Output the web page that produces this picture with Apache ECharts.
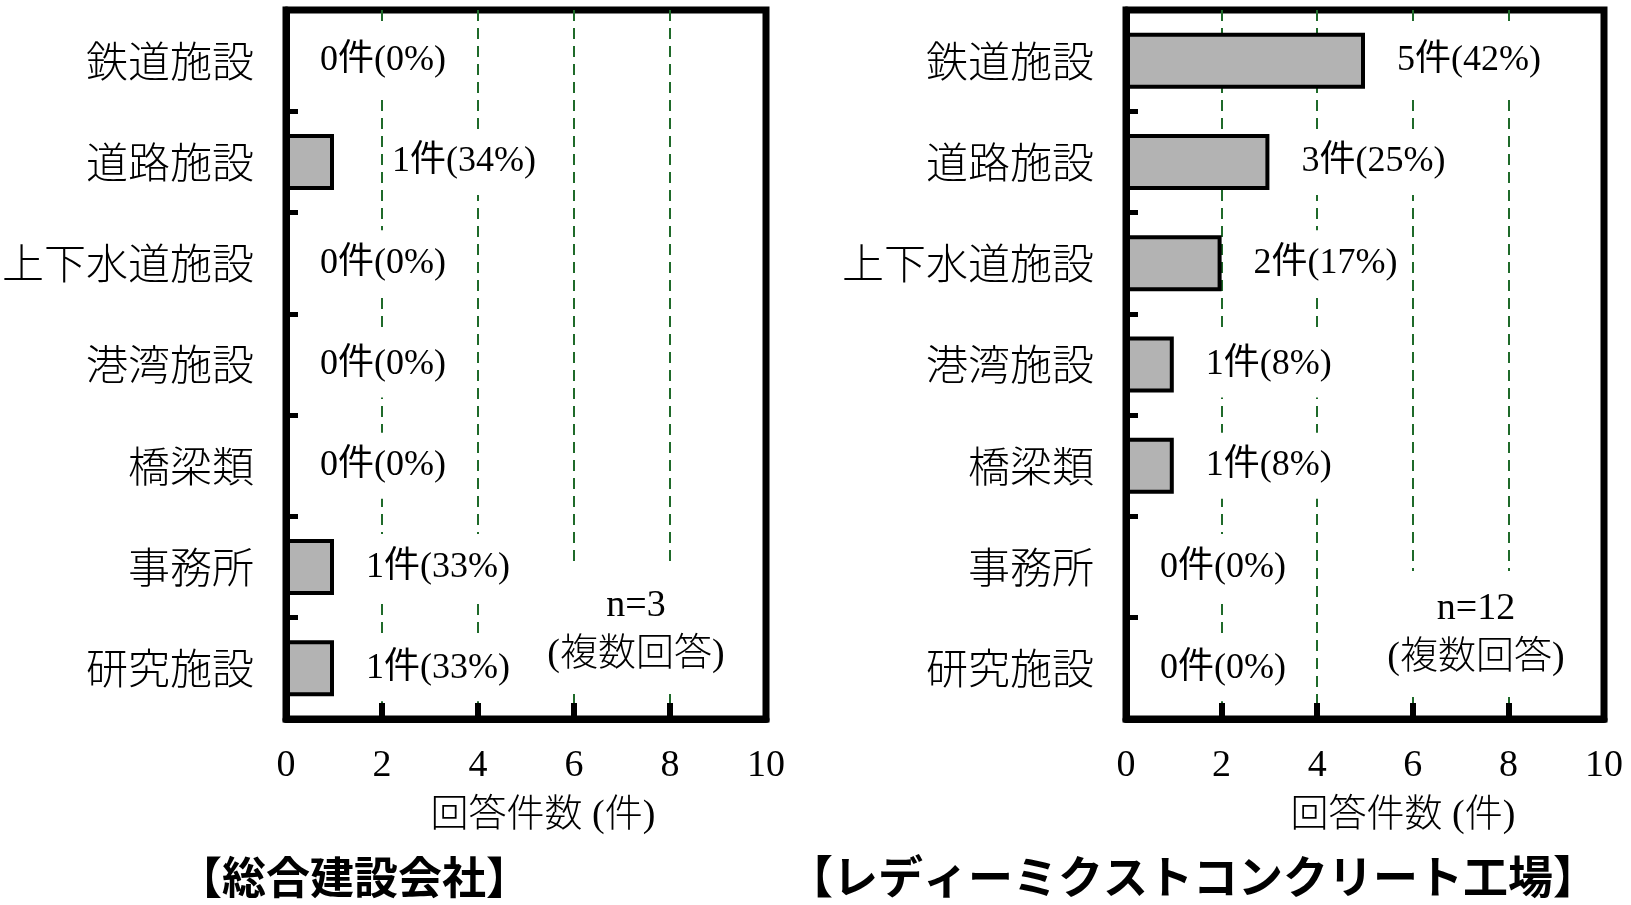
<!DOCTYPE html>
<html>
<head>
<meta charset="utf-8">
<script src="https://cdn.jsdelivr.net/npm/echarts@6/dist/echarts.min.js"></script>
<style>
html,body{margin:0;padding:0;background:#fff}
#main{width:1631px;height:905px}
</style>
</head>
<body>
<div id="main"></div>
<script>
/* データ */
var categories = ['鉄道施設', '道路施設', '上下水道施設', '港湾施設', '橋梁類', '事務所', '研究施設'];
var generalCounts = [0, 1, 0, 0, 0, 1, 1];      // 総合建設会社
var generalPct = [0, 34, 0, 0, 0, 33, 33];
var readyMixCounts = [5, 3, 2, 1, 1, 0, 0];     // レディーミクストコンクリート工場
var readyMixPct = [42, 25, 17, 8, 8, 0, 0];
var xTickLabels = ['0', '2', '4', '6', '8', '10'];

var numFont = "'Liberation Serif', 'Noto Sans CJK JP'";
var jpFont = "'Noto Sans CJK JP'";

function xAxisOpt(idx, shift) {
  return {
    gridIndex: idx,
    type: 'value',
    min: 0,
    max: 10,
    interval: 2,
    name: '回答件数 (件)',
    nameLocation: 'middle',
    nameGap: 78,
    nameTextStyle: {fontFamily: numFont, fontWeight: 300, fontSize: 38, color: '#000', padding: [0, 0, 0, shift]},
    axisLine: {show: true, lineStyle: {color: '#000', width: 7}},
    axisTick: {show: true, inside: true, length: 16, lineStyle: {color: '#000', width: 6}},
    axisLabel: {
      margin: 28,
      fontFamily: numFont,
      fontSize: 38,
      color: '#000',
      formatter: function (v) { return xTickLabels[v / 2]; }
    },
    splitLine: {show: true, showMinLine: false, showMaxLine: false, lineStyle: {color: '#1f6a2a', width: 2, type: [11, 7]}}
  };
}

function yAxisOpt(idx) {
  return {
    gridIndex: idx,
    type: 'category',
    inverse: true,
    data: categories,
    axisLine: {show: true, lineStyle: {color: '#000', width: 7}},
    axisTick: {show: true, inside: true, length: 12, lineStyle: {color: '#000', width: 5}},
    axisLabel: {margin: 32, fontFamily: jpFont, fontWeight: 300, fontSize: 42, color: '#000'},
    splitLine: {show: false}
  };
}

function barSeries(idx, counts, pct, tweak) {
  var data = counts.map(function (v, i) {
    var item = {value: v};
    if (tweak && tweak[i]) item.label = {distance: tweak[i]};
    return item;
  });
  return {
    type: 'bar',
    xAxisIndex: idx,
    yAxisIndex: idx,
    barWidth: 56,
    data: data,
    itemStyle: {color: '#b3b3b3', borderColor: '#000', borderWidth: 4},
    label: {
      show: true,
      position: 'right',
      distance: 24,
      fontFamily: numFont,
      fontSize: 36,
      color: '#000',
      backgroundColor: '#fff',
      padding: [18, 8, 12, 8],
      formatter: function (p) {
        return p.value + '件(' + pct[p.dataIndex] + '%)';
      }
    },
    silent: true,
    animation: false
  };
}

/* n= の注記（白地で破線を隠す） */
function noteText(x, y, txt) {
  return {
    type: 'text', x: x, y: y, z: 10,
    style: {
      text: txt, font: '300 38px ' + numFont, lineHeight: 49, fill: '#000',
      textAlign: 'center', textVerticalAlign: 'middle',
      backgroundColor: '#fff', padding: [14, 12]
    }
  };
}

var myChart = echarts.init(document.getElementById('main'));

var option = {
  animation: false,
  grid: [
    {left: 286, right: 865, top: 10, bottom: 186, outerBoundsMode: 'none', containLabel: false, show: true, borderColor: '#000', borderWidth: 7},
    {left: 1126, right: 27, top: 10, bottom: 186, outerBoundsMode: 'none', containLabel: false, show: true, borderColor: '#000', borderWidth: 7}
  ],
  xAxis: [xAxisOpt(0, 34), xAxisOpt(1, 76)],
  yAxis: [yAxisOpt(0), yAxisOpt(1)],
  series: [
    barSeries(0, generalCounts, generalPct, {1: 50}),
    barSeries(1, readyMixCounts, readyMixPct)
  ],
  graphic: [
    noteText(636, 631, 'n=3\n(複数回答)'),
    noteText(1476, 634, 'n=12\n(複数回答)'),
    /* 下のタイトル */
    {type: 'text', x: 354, y: 877, style: {text: '【総合建設会社】', font: 'bold 44px ' + jpFont, fill: '#000', textAlign: 'center', textVerticalAlign: 'middle'}},
    {type: 'text', x: 1193, y: 877, style: {text: '【レディーミクストコンクリート工場】', font: 'bold 45px ' + jpFont, fill: '#000', textAlign: 'center', textVerticalAlign: 'middle'}}
  ]
};
myChart.setOption(option);
</script>
</body>
</html>
